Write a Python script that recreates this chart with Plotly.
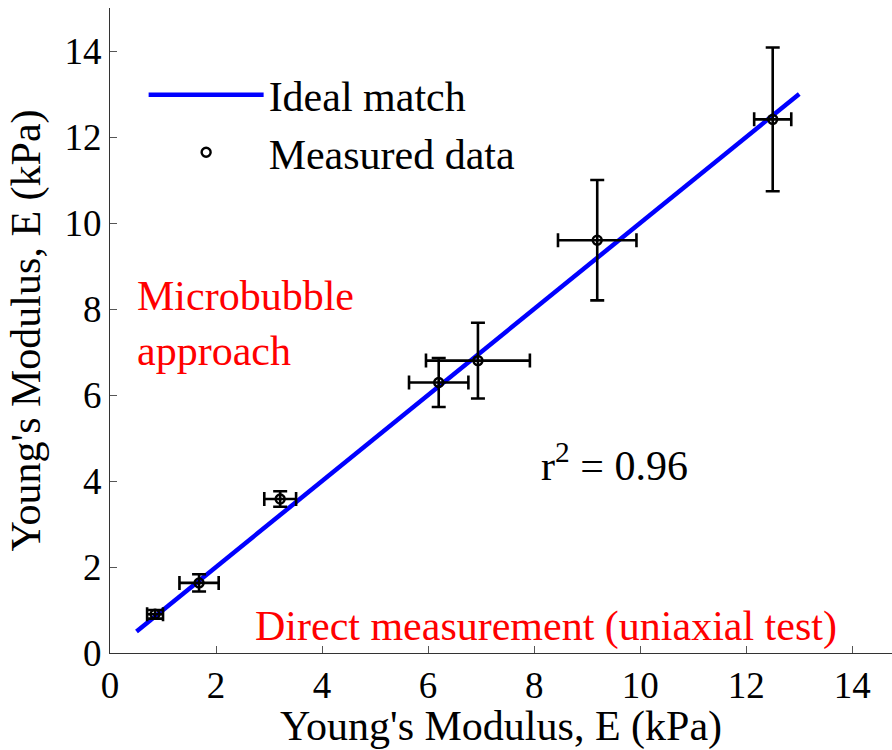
import plotly.graph_objects as go

# Young's modulus: direct (uniaxial) measurement vs. microbubble estimate, kPa
direct_E = [0.85, 1.68, 3.21, 6.20, 6.94, 9.19, 12.50]
direct_err = [0.15, 0.37, 0.30, 0.56, 0.98, 0.74, 0.35]
bubble_E = [0.90, 1.63, 3.58, 6.29, 6.80, 9.60, 12.41]
bubble_err = [0.10, 0.20, 0.18, 0.57, 0.88, 1.40, 1.67]

# identity line endpoints
ideal = [0.5, 13.0]

tick_vals = [0, 2, 4, 6, 8, 10, 12, 14]
tick_text = ["0", "2", "4", "6", "8", "10", "12", "14"]

FONT = "Liberation Serif"
TXT = 42

fig = go.Figure()
fig.add_trace(go.Scatter(
    x=ideal, y=ideal, mode="lines", name="Ideal match",
    line=dict(color="#0000ff", width=4.5),
))
fig.add_trace(go.Scatter(
    x=direct_E, y=bubble_E, mode="markers", name="Measured data",
    marker=dict(symbol="circle-open", size=9, color="black", line=dict(width=2.4, color="black")),
    error_x=dict(type="data", array=direct_err, color="black", thickness=2.6, width=7),
    error_y=dict(type="data", array=bubble_err, color="black", thickness=2.6, width=7),
))

axis_common = dict(
    tickmode="array", tickvals=tick_vals, ticktext=tick_text,
    ticks="inside", ticklen=7, tickwidth=1, tickcolor="#555",
    showline=True, linecolor="#333", linewidth=1,
    showgrid=False, zeroline=False,
    tickfont=dict(family=FONT, size=37, color="black"),
)

fig.update_layout(
    width=892, height=750,
    margin=dict(l=110, r=0, t=8, b=97),
    paper_bgcolor="white", plot_bgcolor="white",
    font=dict(family=FONT, color="black"),
    xaxis=dict(range=[0, 14.75], title=dict(text="Young's Modulus, E (kPa)",
               font=dict(family=FONT, size=TXT), standoff=2), **axis_common),
    yaxis=dict(range=[0, 15], title=dict(text="Young's Modulus, E (kPa)",
               font=dict(family=FONT, size=TXT), standoff=10), **axis_common),
    legend=dict(x=0.043, y=0.918, xanchor="left", yanchor="top",
                font=dict(family=FONT, size=TXT), itemwidth=115,
                bgcolor="rgba(0,0,0,0)", tracegroupgap=0),
    showlegend=True,
)

fig.add_annotation(x=0.47, y=7.67, xref="x", yref="y", xanchor="left",
                   text="Microbubble<br>approach", showarrow=False, align="left",
                   font=dict(family=FONT, size=TXT, color="red"))
fig.add_annotation(x=2.69, y=0.62, xref="x", yref="y", xanchor="left",
                   text="Direct measurement (uniaxial test)", showarrow=False,
                   font=dict(family=FONT, size=TXT, color="red"))
fig.add_annotation(x=8.1, y=4.42, xref="x", yref="y", xanchor="left",
                   text="r<sup>2</sup> = 0.96", showarrow=False,
                   font=dict(family=FONT, size=TXT, color="black"))

fig.write_html("out.html")
